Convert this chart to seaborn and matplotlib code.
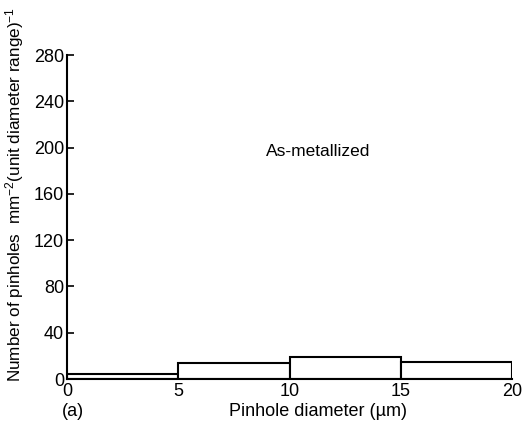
import matplotlib
matplotlib.use("Agg")
import matplotlib.pyplot as plt
import seaborn as sns

# Pinhole density per 5 µm diameter bin
bin_edges = [0, 5, 10, 15, 20]
bin_centers = [2.5, 7.5, 12.5, 17.5]
counts = [4, 14, 19, 15]
y_ticks = [0, 40, 80, 120, 160, 200, 240, 280]
x_ticks = [0, 5, 10, 15, 20]

sns.set_theme(style="white")
plt.rcParams['font.family'] = ['Liberation Sans', 'DejaVu Sans']
plt.rcParams['text.color'] = 'black'
plt.rcParams['axes.labelcolor'] = 'black'
plt.rcParams['xtick.color'] = 'black'
plt.rcParams['ytick.color'] = 'black'
plt.rcParams['mathtext.fontset'] = 'custom'
plt.rcParams['mathtext.rm'] = 'Liberation Sans'
plt.rcParams['mathtext.it'] = 'Liberation Sans'

W, H = 526, 426
fig = plt.figure(figsize=(W / 100, H / 100), dpi=100)
ax = fig.add_axes([67 / W, 1 - 379 / H, (512 - 67) / W, (379 - 55) / H])

sns.histplot(x=bin_centers, weights=counts, bins=bin_edges, ax=ax,
             color="white", edgecolor="black", linewidth=1.5, alpha=1.0)

ax.set_xlim(0, 20)
ax.set_ylim(0, 280)
ax.set_xticks(x_ticks)
ax.set_yticks(y_ticks)
ax.tick_params(axis="y", direction="in", length=5, width=1.2, labelsize=13, pad=2, left=True)
ax.tick_params(axis="x", length=0, labelsize=13, pad=3)
for s in ["top", "right"]:
    ax.spines[s].set_visible(False)
for s in ["left", "bottom"]:
    ax.spines[s].set_color("black")
    ax.spines[s].set_linewidth(1.5)

ax.set_xlabel("")
ax.set_ylabel("Number of pinholes  mm$^{-2}$(unit diameter range)$^{-1}$", fontsize=12.3)
ax.yaxis.set_label_coords(-0.092, 0.569)
fig.text(318 / W, 1 - 411 / H, "Pinhole diameter (µm)", ha="center", va="center", fontsize=13)
fig.text(62 / W, 1 - 411 / H, "(a)", ha="left", va="center", fontsize=13)
ax.text(11.3, 197, "As-metallized", ha="center", va="center", fontsize=12.5)

fig.savefig("out.png", dpi=100, facecolor="white")
